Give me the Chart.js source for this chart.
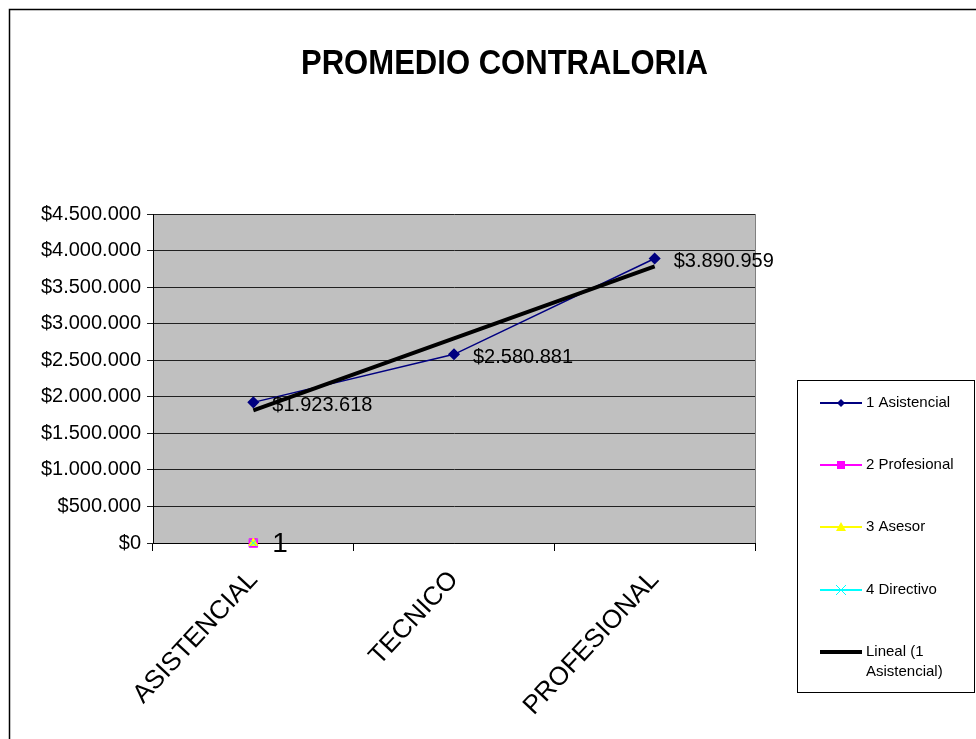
<!DOCTYPE html>
<html>
<head>
<meta charset="utf-8">
<title>PROMEDIO CONTRALORIA</title>
<script src="https://cdn.jsdelivr.net/npm/chart.js@4.4.1/dist/chart.umd.min.js"></script>
<style>
  html, body { margin: 0; padding: 0; background: #fff; }
  #wrap { width: 976px; height: 739px; position: relative; }
</style>
</head>
<body>
<div id="wrap"><canvas id="chart" width="976" height="739"></canvas></div>
<script>
// Categories and series
const categories = ['ASISTENCIAL', 'TECNICO', 'PROFESIONAL'];
const asistencial = [1923618, 2580881, 3890959];
const profesional = [0, null, null];
const asesor = [0, null, null];
const directivo = [0, null, null];
// Linear trend of "1 Asistencial"
const tendencia = [1814816, 2798486, 3782157];
const yTicks = [0, 500000, 1000000, 1500000, 2000000, 2500000, 3000000, 3500000, 4000000, 4500000];
const zeroLabel = '1';

const FONT = '"Liberation Sans", Arial, sans-serif';

function money(v) {
  return '$' + String(Math.round(v)).replace(/\B(?=(\d{3})+(?!\d))/g, '.');
}

// gray plot background, right border, outer frame, title
const framePlugin = {
  id: 'frame',
  beforeDraw(chart) {
    const { ctx, chartArea: a } = chart;
    ctx.save();
    ctx.fillStyle = '#fff';
    ctx.fillRect(0, 0, chart.width, chart.height);
    ctx.fillStyle = '#c0c0c0';
    ctx.fillRect(a.left, a.top, a.right - a.left, a.bottom - a.top);
    ctx.strokeStyle = '#808080';
    ctx.lineWidth = 1;
    ctx.beginPath();
    ctx.moveTo(Math.round(a.right) + 0.5, a.top);
    ctx.lineTo(Math.round(a.right) + 0.5, a.bottom);
    ctx.stroke();
    // chart frame
    ctx.strokeStyle = '#000';
    ctx.lineWidth = 1.5;
    ctx.strokeRect(9.5, 9.5, 1100, 900);
    // title, slightly condensed
    ctx.font = 'bold 35px ' + FONT;
    ctx.fillStyle = '#000';
    ctx.textBaseline = 'alphabetic';
    const t = 'PROMEDIO CONTRALORIA';
    const w = ctx.measureText(t).width;
    const target = 407;
    ctx.translate(301, 74);
    ctx.scale(target / w, 1);
    ctx.fillText(t, 0, 0);
    ctx.restore();
  },
  afterDatasetsDraw(chart) {
    const { ctx } = chart;
    ctx.save();
    // value labels on the first series
    const meta = chart.getDatasetMeta(0);
    ctx.font = '20px ' + FONT;
    ctx.fillStyle = '#000';
    ctx.textBaseline = 'middle';
    ctx.textAlign = 'left';
    meta.data.forEach((pt, i) => {
      ctx.fillText(money(asistencial[i]), pt.x + 19, pt.y + 3);
    });
    // label next to the zero points
    const z = chart.getDatasetMeta(1).data[0];
    ctx.font = '28px ' + FONT;
    ctx.fillText(zeroLabel, z.x + 19, z.y + 1);
    ctx.restore();

    drawLegend(chart);
  }
};

function drawLegend(chart) {
  const ctx = chart.ctx;
  ctx.save();
  ctx.fillStyle = '#fff';
  ctx.fillRect(797, 380, 177, 312);
  ctx.strokeStyle = '#000';
  ctx.lineWidth = 1;
  ctx.strokeRect(797.5, 380.5, 177, 312);
  ctx.font = '15px ' + FONT;
  ctx.textBaseline = 'middle';
  ctx.textAlign = 'left';
  const rows = [
    { y: 403, color: '#000080', w: 2, marker: 'diamond', text: ['1 Asistencial'] },
    { y: 465, color: '#ff00ff', w: 2, marker: 'square', text: ['2 Profesional'] },
    { y: 527, color: '#ffff00', w: 2, marker: 'triangle', text: ['3 Asesor'] },
    { y: 590, color: '#00ffff', w: 2, marker: 'cross', text: ['4 Directivo'] },
    { y: 652, color: '#000', w: 4, marker: null, text: ['Lineal (1', 'Asistencial)'] }
  ];
  rows.forEach(r => {
    ctx.strokeStyle = r.color;
    ctx.lineWidth = r.w;
    ctx.beginPath();
    ctx.moveTo(820, r.y);
    ctx.lineTo(862, r.y);
    ctx.stroke();
    const cx = 841, cy = r.y;
    ctx.fillStyle = r.color;
    if (r.marker === 'diamond') {
      ctx.beginPath();
      ctx.moveTo(cx, cy - 4); ctx.lineTo(cx + 4, cy); ctx.lineTo(cx, cy + 4); ctx.lineTo(cx - 4, cy);
      ctx.closePath(); ctx.fill();
    } else if (r.marker === 'square') {
      ctx.fillRect(cx - 4, cy - 4, 8, 8);
    } else if (r.marker === 'triangle') {
      ctx.beginPath();
      ctx.moveTo(cx, cy - 5); ctx.lineTo(cx + 5, cy + 4); ctx.lineTo(cx - 5, cy + 4);
      ctx.closePath(); ctx.fill();
    } else if (r.marker === 'cross') {
      ctx.lineWidth = 1;
      ctx.beginPath();
      ctx.moveTo(cx - 5, cy - 5); ctx.lineTo(cx + 5, cy + 5);
      ctx.moveTo(cx + 5, cy - 5); ctx.lineTo(cx - 5, cy + 5);
      ctx.stroke();
    }
    ctx.fillStyle = '#000';
    r.text.forEach((s, k) => ctx.fillText(s, 866, r.y + k * 20));
  });
  ctx.restore();
}

new Chart(document.getElementById('chart'), {
  type: 'line',
  data: {
    labels: categories,
    datasets: [
      {
        label: '1 Asistencial',
        data: asistencial,
        borderColor: '#000080',
        backgroundColor: '#000080',
        borderWidth: 1.5,
        pointStyle: 'rectRot',
        pointRadius: 5,
        tension: 0,
        order: 1
      },
      {
        label: '2 Profesional',
        data: profesional,
        borderColor: '#ff00ff',
        backgroundColor: '#ff00ff',
        pointStyle: 'rect',
        pointRadius: 6,
        clip: false,
        order: 4
      },
      {
        label: '3 Asesor',
        data: asesor,
        borderColor: '#ffff00',
        backgroundColor: '#ffff00',
        pointStyle: 'triangle',
        pointRadius: 5,
        clip: false,
        order: 3
      },
      {
        label: '4 Directivo',
        data: directivo,
        borderColor: '#00ffff',
        backgroundColor: '#00ffff',
        pointStyle: 'cross',
        pointRotation: 45,
        pointRadius: 5,
        pointBorderWidth: 1,
        clip: false,
        order: 2
      },
      {
        label: 'Lineal (1 Asistencial)',
        data: tendencia,
        borderColor: '#000',
        borderWidth: 4,
        pointRadius: 0,
        tension: 0,
        order: 0
      }
    ]
  },
  options: {
    responsive: false,
    animation: false,
    layout: { padding: { top: 214, right: 221, left: 0, bottom: 0 } },
    plugins: {
      legend: { display: false },
      title: { display: false },
      tooltip: { enabled: false }
    },
    scales: {
      x: {
        offset: true,
        afterFit(axis) { axis.height = 196; },
        border: { color: '#000', width: 1 },
        grid: { offset: true, drawOnChartArea: false, drawTicks: true, tickLength: 8, color: '#000' },
        ticks: {
          color: '#000',
          font: { family: FONT, size: 26 },
          minRotation: 47,
          maxRotation: 47,
          padding: 14
        }
      },
      y: {
        min: 0,
        max: 4500000,
        afterFit(axis) { axis.width = 153; },
        afterBuildTicks(axis) { axis.ticks = yTicks.map(v => ({ value: v })); },
        border: { color: '#000', width: 1 },
        grid: { color: '#202020', lineWidth: 1, tickLength: 6, drawTicks: true },
        ticks: {
          color: '#000',
          font: { family: FONT, size: 20 },
          padding: 6,
          callback: v => money(v)
        }
      }
    }
  },
  plugins: [framePlugin]
});
</script>
</body>
</html>
